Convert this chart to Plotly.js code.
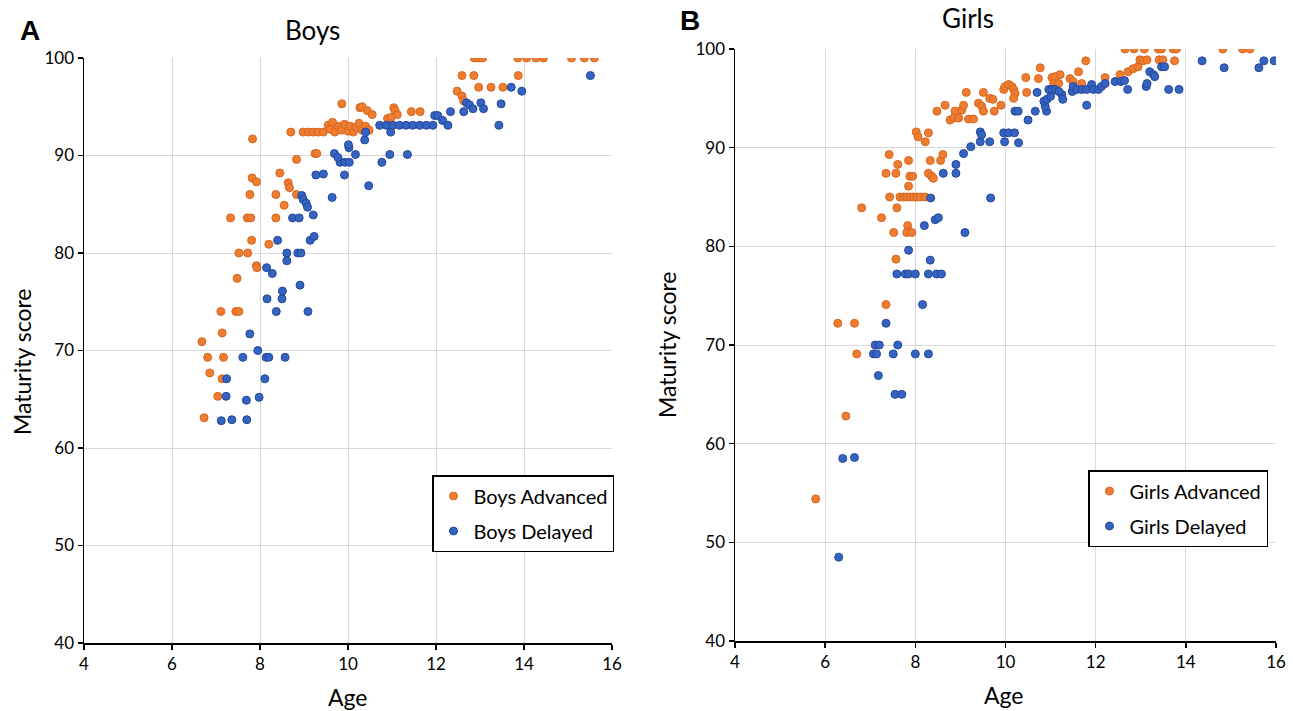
<!DOCTYPE html>
<html>
<head>
<meta charset="utf-8">
<script src="https://cdn.plot.ly/plotly-3.0.1.min.js"></script>
<style>html,body{margin:0;padding:0;background:#fff;}#chart{width:1293px;height:711px;}</style>
</head>
<body>
<div id="chart"></div>
<script>
// ---------- DATA ----------
const boysAdvAge = [6.68,6.81,6.86,6.73,7.04,7.11,7.14,7.17,7.14,7.45,7.52,7.48,
  7.52,7.72,7.81,7.92,7.93,8.20,7.33,7.71,7.79,8.36,8.55,7.77,8.36,8.83,8.64,8.67,7.82,7.92,8.45,8.83,9.25,9.29,7.83,
  8.70,8.98,9.10,9.21,9.32,9.44,9.55,9.59,9.86,10.27,
  9.70,9.78,9.85,9.92,10.00,10.05,10.12,10.18,10.25,10.32,10.40,10.48,9.65,
  10.32,10.44,10.55,11.04,11.07,11.12,11.44,11.64,10.90,10.98,12.48,12.59,12.63,12.59,12.86,13.87,12.97,13.25,13.52,
  12.87,12.97,13.06,13.86,14.06,14.27,14.44,15.08,15.37,15.60];
const boysAdvScore = [70.9,69.3,67.7,63.1,65.3,74.0,71.8,69.3,67.1,74.0,74.0,77.4,
  80.0,80.0,81.3,78.7,78.5,80.9,83.6,83.6,83.6,83.6,84.9,86.0,86.0,86.0,87.2,86.7,87.7,87.3,88.2,89.6,90.2,90.2,91.7,
  92.4,92.4,92.4,92.4,92.4,92.4,93.1,92.7,95.3,94.9,
  92.4,93.0,92.6,93.2,92.5,93.0,92.4,92.9,93.3,92.6,93.0,92.6,93.4,
  95.0,94.6,94.2,94.9,94.6,94.2,94.5,94.5,93.8,93.9,96.6,96.1,95.6,98.2,98.2,98.2,97.0,97.0,97.0,
  100,100,100,100,100,100,100,100,100,100];

const boysDelAge = [7.12,7.36,7.70,7.24,8.11,7.23,7.69,7.98,7.61,8.14,8.20,8.57,7.95,7.77,8.37,9.09,8.16,8.50,8.51,8.91,
  8.15,8.28,8.61,8.61,8.86,8.93,8.40,9.14,9.23,8.74,8.89,9.21,8.95,8.98,9.05,9.08,9.64,10.47,9.27,9.44,9.92,
  9.82,9.93,10.03,10.77,9.69,9.77,10.17,10.02,10.95,11.35,10.01,10.38,10.40,10.97,
  10.72,10.87,11.02,11.17,11.32,11.47,11.63,11.78,11.93,11.97,12.04,12.15,12.27,12.33,12.63,
  12.69,12.76,12.84,13.02,13.08,13.48,13.43,13.71,13.95,15.51];
const boysDelScore = [62.8,62.9,62.9,67.1,67.1,65.3,64.9,65.2,69.3,69.3,69.3,69.3,70.0,71.7,74.0,74.0,75.3,75.3,76.1,76.7,
  78.5,77.9,80.0,79.2,80.0,80.0,81.3,81.3,81.7,83.6,83.6,83.9,85.9,85.5,85.1,84.7,85.7,86.9,88.0,88.1,88.0,
  89.3,89.3,89.3,89.3,90.2,89.8,90.1,90.8,90.1,90.1,91.1,91.6,92.4,92.4,
  93.1,93.1,93.1,93.1,93.1,93.1,93.1,93.1,93.1,94.1,94.1,93.6,93.1,94.5,94.5,
  95.4,95.2,94.8,95.4,94.8,95.3,93.1,97.0,96.6,98.2];

const girlsAdvAge = [5.79,6.46,6.28,6.65,6.70,7.35,7.57,6.81,7.59,7.25,7.83,7.85,7.81,7.92,7.52,
  7.43,7.66,7.74,7.81,7.88,7.96,8.03,8.11,8.22,7.85,7.88,7.94,7.35,7.57,7.61,7.85,7.42,
  8.29,8.36,8.40,8.33,8.56,8.61,8.02,8.06,8.29,8.22,8.48,8.66,8.77,8.88,8.85,8.96,9.03,9.07,9.13,
  9.18,9.29,9.40,9.47,9.51,9.51,9.65,9.72,9.75,9.90,9.96,9.99,10.07,10.14,10.18,10.21,10.18,
  10.45,10.47,10.77,10.73,11.03,11.10,11.21,11.07,11.18,11.43,11.50,11.69,11.62,11.78,
  12.21,12.54,12.72,12.83,12.94,12.98,13.05,13.14,13.41,13.49,13.75,
  12.65,12.85,13.08,13.39,13.46,13.72,13.79,14.82,15.26,15.42];
const girlsAdvScore = [54.4,62.8,72.2,72.2,69.1,74.1,78.7,83.9,83.9,82.9,82.1,81.5,81.4,81.4,81.4,
  85.0,85.0,85.0,85.0,85.0,85.0,85.0,85.0,85.0,86.1,87.1,87.1,87.4,87.4,88.3,88.7,89.3,
  87.4,87.1,86.9,88.7,88.7,89.3,91.6,91.1,91.5,90.6,93.7,94.3,92.8,93.7,93.0,93.0,93.8,94.3,95.6,
  92.9,92.9,94.5,94.2,93.7,95.6,95.0,94.9,93.7,94.3,95.9,96.2,96.4,96.2,95.9,95.5,95.0,
  97.1,95.6,98.1,97.0,97.1,97.2,97.4,96.5,96.5,97.0,96.7,96.5,97.7,98.8,
  97.1,97.4,97.7,98.0,98.2,98.9,98.8,98.9,98.9,98.9,98.8,
  100,100,100,100,100,100,100,100,100,100];

const girlsDelAge = [6.30,6.39,6.65,7.55,7.70,7.18,7.07,7.14,7.51,8.00,8.29,7.11,7.20,7.61,7.35,8.16,
  7.59,7.78,7.85,8.00,8.29,8.47,8.58,8.33,7.85,9.10,8.20,8.44,8.51,8.34,9.67,8.62,8.90,8.90,9.07,9.23,
  9.44,9.65,9.98,10.29,9.44,9.47,9.96,10.07,10.20,10.21,10.28,10.50,10.66,10.91,10.88,10.85,10.92,11.00,11.25,11.27,
  10.70,10.96,11.03,11.10,11.18,11.48,11.50,11.58,11.69,11.80,11.80,11.91,11.95,12.06,12.13,12.21,
  12.43,12.56,12.64,12.71,13.12,13.14,13.20,13.28,13.31,13.46,13.53,13.62,13.85,14.36,14.85,15.62,15.73,15.96];
const girlsDelScore = [48.5,58.5,58.6,65.0,65.0,66.9,69.1,69.1,69.1,69.1,69.1,70.0,70.0,70.0,72.2,74.1,
  77.2,77.2,77.2,77.2,77.2,77.2,77.2,78.6,79.6,81.4,82.1,82.7,82.9,84.9,84.9,87.4,87.4,88.3,89.4,90.1,
  90.6,90.6,90.6,90.5,91.6,91.3,91.5,91.5,91.5,93.7,93.7,92.8,93.7,93.7,94.2,94.7,94.9,95.2,95.4,94.9,
  95.6,95.9,95.9,95.9,95.7,95.7,96.2,95.9,95.9,95.9,94.3,96.4,95.9,95.9,96.2,96.5,
  96.7,96.7,96.8,95.9,96.2,96.5,97.7,97.4,97.2,98.2,98.2,95.9,95.9,98.8,98.1,98.1,98.8,98.8];

const xTicks = [4,6,8,10,12,14,16];
const yTicks = [40,50,60,70,80,90,100];
const seriesNames = ['Boys Advanced','Boys Delayed','Girls Advanced','Girls Delayed'];

// ---------- STYLE ----------
const ORANGE = '#ED7D31', BLUE = '#3563C2';
const FONT = 'Lato, "Open Sans", sans-serif';
const W = 1293, H = 711;
const px = v => v / W, py = v => 1 - v / H;

function mk(x, y, name, color, xa, ya, leg, grp) {
  return {
    type: 'scatter', mode: 'markers', x: x, y: y, name: name,
    xaxis: xa, yaxis: ya, legend: leg, legendgroup: grp,
    marker: {color: color, size: 8, line: {color: color === ORANGE ? '#D9651C' : '#24479A', width: 1}}
  };
}
const traces = [
  mk(boysAdvAge, boysAdvScore, seriesNames[0], ORANGE, 'x', 'y', 'legend', 'g1'),
  mk(boysDelAge, boysDelScore, seriesNames[1], BLUE, 'x', 'y', 'legend', 'g2'),
  mk(girlsAdvAge, girlsAdvScore, seriesNames[2], ORANGE, 'x2', 'y2', 'legend2', 'g3'),
  mk(girlsDelAge, girlsDelScore, seriesNames[3], BLUE, 'x2', 'y2', 'legend2', 'g4')
];

function xax(dom, anchor) {
  return {domain: dom, anchor: anchor, range: [4, 16], tickvals: xTicks, ticktext: xTicks.map(String),
    showgrid: true, gridcolor: '#d9d9d9', gridwidth: 1, zeroline: false,
    showline: true, linecolor: '#000', linewidth: 1.5, ticks: 'outside', ticklen: 5, tickwidth: 1.5, tickcolor: '#000',
    tickfont: {family: FONT, size: 17, color: '#000'}, fixedrange: true};
}
function yax(dom, anchor) {
  return {domain: dom, anchor: anchor, range: [40, 100], tickvals: yTicks, ticktext: yTicks.map(String),
    showgrid: true, gridcolor: '#d9d9d9', gridwidth: 1, zeroline: false,
    showline: true, linecolor: '#000', linewidth: 1.5, ticks: 'outside', ticklen: 5, tickwidth: 1.5, tickcolor: '#000',
    tickfont: {family: FONT, size: 17, color: '#000'}, fixedrange: true};
}

function ann(text, x, y, size, opts) {
  return Object.assign({text: text, x: px(x), y: py(y), xref: 'paper', yref: 'paper',
    xanchor: 'center', yanchor: 'middle', showarrow: false,
    font: {family: FONT, size: size, color: '#000'}}, opts || {});
}

const legendBase = {
  bgcolor: '#fff', bordercolor: '#000', borderwidth: 1.5,
  font: {family: FONT, size: 20, color: '#000'},
  xanchor: 'left', yanchor: 'top', tracegroupgap: 6
};

const layout = {
  width: W, height: H,
  margin: {l: 0, r: 0, t: 0, b: 0},
  paper_bgcolor: '#fff', plot_bgcolor: '#fff',
  showlegend: true,
  xaxis: xax([px(84), px(612)], 'y'),
  yaxis: yax([py(643), py(58)], 'x'),
  xaxis2: xax([px(735), px(1276)], 'y2'),
  yaxis2: yax([py(641), py(49)], 'x2'),
  legend: Object.assign({}, legendBase, {x: px(432), y: py(475)}),
  legend2: Object.assign({}, legendBase, {x: px(1088), y: py(470)}),
  annotations: [
    ann('Boys', 312, 30, 26),
    ann('Girls', 968, 18, 26),
    ann('<b>A</b>', 30, 30, 28, {font: {family: '"Liberation Sans", Arial, sans-serif', size: 28, color: '#000'}}),
    ann('<b>B</b>', 690, 20, 28, {font: {family: '"Liberation Sans", Arial, sans-serif', size: 28, color: '#000'}}),
    ann('Age', 348, 697, 23),
    ann('Age', 1004, 695, 23),
    ann('Maturity score', 22, 362, 23, {textangle: -90}),
    ann('Maturity score', 667, 345, 23, {textangle: -90})
  ]
};

Plotly.newPlot('chart', traces, layout, {displayModeBar: false, staticPlot: true});
</script>
</body>
</html>
